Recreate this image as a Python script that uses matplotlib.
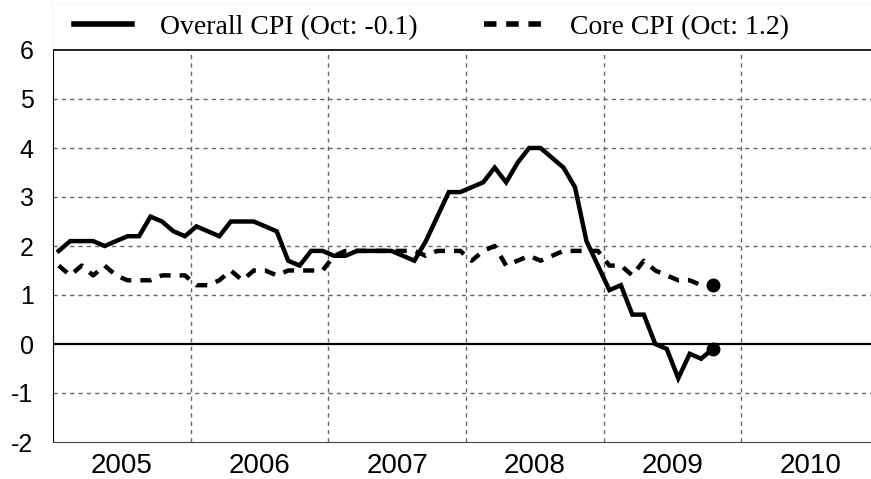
import numpy as np
import matplotlib.pyplot as plt
from matplotlib.lines import Line2D

plt.rcParams['font.family'] = 'Liberation Sans'
plt.rcParams['axes.unicode_minus'] = False
plt.rcParams['lines.scale_dashes'] = False

# monthly y/y inflation, Jan 2005 .. Oct 2009
years = [2005, 2006, 2007, 2008, 2009, 2010]
overall = [1.9, 2.1, 2.1, 2.1, 2.0, 2.1, 2.2, 2.2, 2.6, 2.5, 2.3, 2.2,
           2.4, 2.3, 2.2, 2.5, 2.5, 2.5, 2.4, 2.3, 1.7, 1.6, 1.9, 1.9,
           1.8, 1.8, 1.9, 1.9, 1.9, 1.9, 1.8, 1.7, 2.1, 2.6, 3.1, 3.1,
           3.2, 3.3, 3.6, 3.3, 3.7, 4.0, 4.0, 3.8, 3.6, 3.2, 2.1, 1.6,
           1.1, 1.2, 0.6, 0.6, 0.0, -0.1, -0.7, -0.2, -0.3, -0.1]
core = [1.6, 1.4, 1.6, 1.4, 1.6, 1.4, 1.3, 1.3, 1.3, 1.4, 1.4, 1.4,
        1.2, 1.2, 1.3, 1.5, 1.3, 1.5, 1.5, 1.4, 1.5, 1.5, 1.5, 1.5,
        1.8, 1.9, 1.9, 1.9, 1.9, 1.9, 1.9, 1.9, 1.8, 1.9, 1.9, 1.9,
        1.7, 1.9, 2.0, 1.6, 1.7, 1.8, 1.7, 1.8, 1.9, 1.9, 1.9, 1.9,
        1.6, 1.6, 1.4, 1.7, 1.5, 1.4, 1.3, 1.3, 1.2, 1.2]
labels = ['Overall CPI (Oct: -0.1)', 'Core CPI (Oct: 1.2)']

x = years[0] + (np.arange(len(overall)) + 0.5) / 12

fig = plt.figure(figsize=(8.71, 4.79), dpi=100)
ax = fig.add_axes([53 / 871, 37 / 479, 826 / 871, 438 / 479])
ax.set_xlim(2005, 2011)
ax.set_ylim(-2, 6 + 46 / 49)

# grid
grid_kw = dict(color='#666666', lw=1, linestyle=(0, (3, 3)), zorder=1)
for yy in [-1, 1, 2, 3, 4, 5]:
    ax.axhline(yy, **grid_kw)
ax.vlines(years[1:], -2, 6, **grid_kw)
ax.axhline(0, color='black', lw=1.6, zorder=2)

ax.plot(x, overall, color='black', lw=3.2, solid_joinstyle='miter', zorder=4)
ax.plot(x, core, color='black', lw=3.2, linestyle=(0, (8, 6.5)), zorder=3)
ax.plot(x[-1], overall[-1], 'o', ms=9, color='black', zorder=5)
ax.plot(x[-1], core[-1], 'o', ms=9, color='black', zorder=5)

# legend band on top
ax.axhspan(6, 7, color='white', zorder=6)
ax.axhline(6, color='black', lw=1.2, zorder=7)
handles = [Line2D([], [], color='black', lw=4),
           Line2D([], [], color='black', lw=4, linestyle=(0, (9, 7)))]
ax.legend(handles, labels, ncol=2, loc='center',
          bbox_to_anchor=(2007.75, 6.47), bbox_transform=ax.transData,
          frameon=False, prop={'family': 'Liberation Serif', 'size': 20},
          handlelength=2.1, handletextpad=1.0, columnspacing=2.4,
          borderpad=0, borderaxespad=0).set_zorder(8)

ax.set_xticks([yr + 0.5 for yr in years])
ax.set_xticklabels([str(yr) for yr in years])
ax.set_yticks(range(-2, 7))
ax.tick_params(axis='x', length=0, pad=8, labelsize=20)
ax.tick_params(axis='y', length=0, pad=14, labelsize=18)

ax.spines['top'].set_color('#888888')
ax.spines['right'].set_visible(False)
ax.spines['left'].set_color('black')
ax.spines['bottom'].set_color('#444444')

fig.savefig('out.png', dpi=100)
